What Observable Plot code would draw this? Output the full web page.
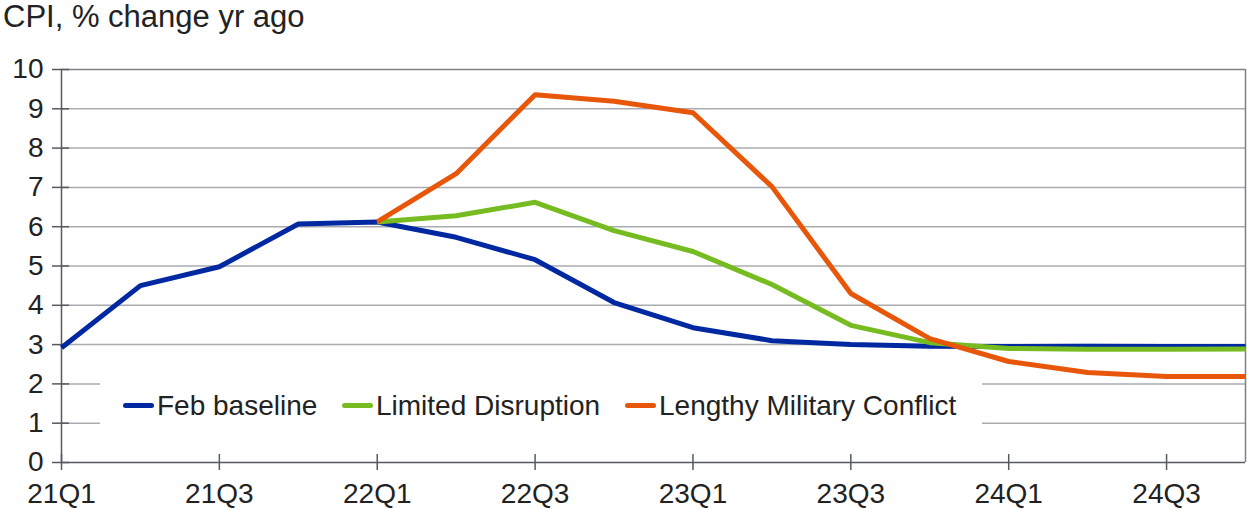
<!DOCTYPE html>
<html>
<head>
<meta charset="utf-8">
<script src="https://cdn.jsdelivr.net/npm/d3@7"></script>
<script src="https://cdn.jsdelivr.net/npm/@observablehq/plot@0.6"></script>
<style>
  html, body { margin: 0; padding: 0; background: white; }
  #wrap { position: relative; width: 1247px; height: 510px; font-family: "Liberation Sans", Arial, sans-serif; color: #222; }
  #title { position: absolute; left: 3px; top: 1px; font-size: 31px; line-height: 31px; white-space: nowrap; }
  #chart { position: absolute; left: 0; top: 40px; }
  #legend { position: absolute; left: 100px; top: 358px; width: 882px; height: 88px; background: white; }
  .sw { position: absolute; height: 5px; width: 31px; border-radius: 3px; top: 45px; }
  .lt { position: absolute; top: 34px; font-size: 28px; line-height: 27px; white-space: nowrap; }
</style>
</head>
<body>
<div id="wrap">
  <div id="title">CPI, % change yr ago</div>
  <div id="chart"></div>
  <div id="legend"></div>
</div>
<script>
const quarters = ["21Q1","21Q2","21Q3","21Q4","22Q1","22Q2","22Q3","22Q4","23Q1","23Q2","23Q3","23Q4","24Q1","24Q2","24Q3","24Q4"];
const febBaseline = [2.92, 4.50, 4.98, 6.07, 6.12, 5.73, 5.16, 4.07, 3.43, 3.10, 3.00, 2.96, 2.95, 2.96, 2.95, 2.95];
const limitedDisruption = [null, null, null, null, 6.12, 6.28, 6.62, 5.90, 5.37, 4.53, 3.49, 3.05, 2.90, 2.88, 2.88, 2.89];
const lengthyConflict = [null, null, null, null, 6.12, 7.35, 9.36, 9.19, 8.90, 7.02, 4.30, 3.15, 2.57, 2.29, 2.19, 2.19];
const seriesNames = ["Feb baseline", "Limited Disruption", "Lengthy Military Conflict"];
const seriesColors = ["#0028a0", "#76bc21", "#e8560a"];
const xTickLabels = ["21Q1","21Q3","22Q1","22Q3","23Q1","23Q3","24Q1","24Q3"];
const yTicks = [0,1,2,3,4,5,6,7,8,9,10];

const xTicks = xTickLabels.map(l => quarters.indexOf(l));
const allSeries = [febBaseline, limitedDisruption, lengthyConflict];
const rows = allSeries.map((vals, s) => vals.map((v, i) => ({i, v, s: seriesNames[s]})));

const axisColor = "#555a60";
const gridColor = "#a8abb0";

const chart = Plot.plot({
  width: 1247,
  height: 470,
  marginTop: 29,
  marginLeft: 61,
  marginRight: 2,
  marginBottom: 48,
  x: {domain: [0, quarters.length - 1], axis: null},
  y: {domain: [0, 10], axis: null},
  style: {fontFamily: "Liberation Sans, Arial, sans-serif", fontSize: "28px", color: "#222", background: "white", overflow: "visible"},
  marks: [
    Plot.gridY(yTicks.filter(d => d > 0 && d < 10), {stroke: gridColor, strokeOpacity: 1, strokeWidth: 1.5}),
    Plot.ruleY([10], {stroke: "#7d8186", strokeWidth: 1.5}),
    Plot.ruleX([quarters.length - 1], {y1: 0, y2: 10, stroke: "#7d8186", strokeWidth: 1.5}),
    Plot.axisY(yTicks, {label: null, tickSize: 9, tickPadding: 9, stroke: axisColor, strokeWidth: 1.5, fill: "#222", tickFormat: d => String(d)}),
    Plot.ruleY(yTicks, {y: d => d, x1: 0, x2: 0, insetRight: -8, stroke: axisColor, strokeWidth: 1.5}),
    Plot.axisX(xTicks, {label: null, tickSize: 8, tickPadding: 13, stroke: axisColor, strokeWidth: 1.5, fill: "#222", tickFormat: d => quarters[d]}),
    Plot.ruleX(xTicks, {x: d => d, y1: 0, y2: 0, insetTop: -8, stroke: axisColor, strokeWidth: 1.5}),
    Plot.ruleX([0], {y1: 0, y2: 10, stroke: axisColor, strokeWidth: 1.5}),
    Plot.ruleY([0], {stroke: axisColor, strokeWidth: 1.5}),
    ...rows.map((r, s) => Plot.line(r, {x: "i", y: "v", stroke: seriesColors[s], strokeWidth: 5, strokeLinejoin: "round", strokeLinecap: "butt"}))
  ]
});
document.getElementById("chart").appendChild(chart);

const legend = document.getElementById("legend");
const swLeft = [23, 242, 525];
seriesNames.forEach((name, s) => {
  const sw = document.createElement("div");
  sw.className = "sw";
  sw.style.left = swLeft[s] + "px";
  sw.style.background = seriesColors[s];
  legend.appendChild(sw);
  const t = document.createElement("div");
  t.className = "lt";
  t.style.left = (swLeft[s] + 34) + "px";
  t.textContent = name;
  legend.appendChild(t);
});
</script>
</body>
</html>
